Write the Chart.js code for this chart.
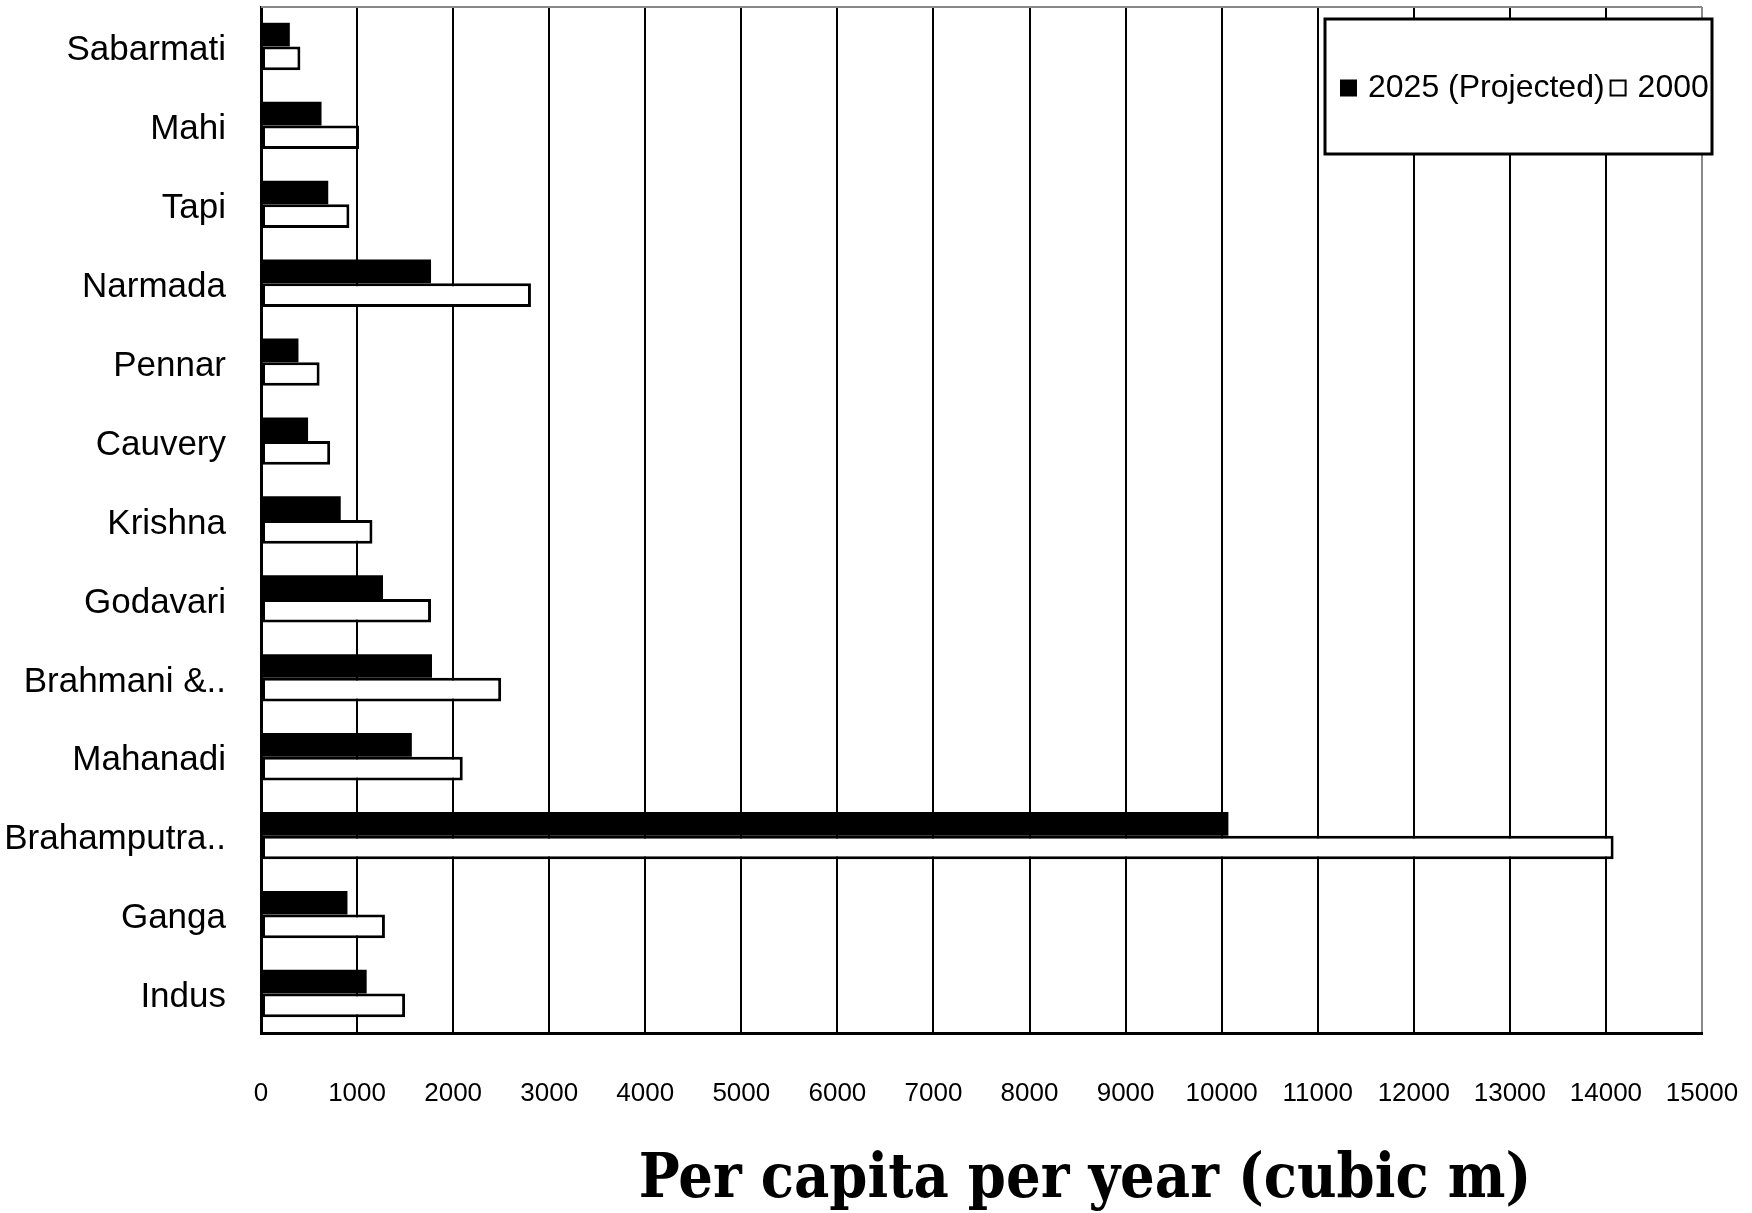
<!DOCTYPE html>
<html>
<head>
<meta charset="utf-8">
<title>Per capita water availability by river basin</title>
<script src="https://cdn.jsdelivr.net/npm/chart.js@4.4.1/dist/chart.umd.min.js"></script>
<style>
    body { margin: 0; background: #fff; }
    canvas { display: block; background: #fff; }
</style>
</head>
<body>
<canvas id="basinChart" width="1752" height="1213"></canvas>
<script>
// River basins, top to bottom
const basins = ['Sabarmati', 'Mahi', 'Tapi', 'Narmada', 'Pennar', 'Cauvery', 'Krishna',
    'Godavari', 'Brahmani &..', 'Mahanadi', 'Brahamputra..', 'Ganga', 'Indus'];

// Cubic metres per capita per year
const projected2025 = [300, 630, 700, 1770, 390, 490, 830, 1270, 1780, 1570, 10070, 900, 1100];
const actual2000 = [410, 1020, 920, 2810, 610, 720, 1160, 1770, 2500, 2100, 14080, 1290, 1500];

const axisMax = 15000;
const axisStep = 1000;
const axisTitle = 'Per capita per year (cubic m)';

// Top frame line, boxed legend inside the plot, and the axis title
const framePlugin = {
    id: 'frame',
    afterDatasetsDraw(chart) {
        const ctx = chart.ctx;
        const area = chart.chartArea;
        ctx.save();
        ctx.strokeStyle = '#888';
        ctx.lineWidth = 2;
        ctx.beginPath();
        ctx.moveTo(area.left, area.top);
        ctx.lineTo(area.right, area.top);
        ctx.stroke();
        ctx.restore();
    },
    afterDraw(chart) {
        const ctx = chart.ctx;
        const area = chart.chartArea;
        const box = { left: area.right - 377, top: area.top + 12, width: 387, height: 135 };

        ctx.save();
        ctx.fillStyle = '#fff';
        ctx.fillRect(box.left, box.top, box.width, box.height);
        ctx.strokeStyle = '#000';
        ctx.lineWidth = 3;
        ctx.strokeRect(box.left, box.top, box.width, box.height);

        ctx.font = '32px "Liberation Sans", Arial, sans-serif';
        ctx.textBaseline = 'middle';
        const midY = box.top + box.height / 2 + 2;
        let x = box.left + 15;
        chart.data.datasets.forEach(ds => {
            ctx.fillStyle = ds.backgroundColor;
            ctx.fillRect(x, midY - 9, 17, 17);
            if (ds.backgroundColor === '#ffffff') {
                ctx.lineWidth = 2;
                ctx.strokeRect(x + 1, midY - 8, 15, 15);
            }
            x += 28;
            ctx.fillStyle = '#000';
            ctx.fillText(ds.label, x, midY);
            x += ctx.measureText(ds.label).width + 5;
        });
        ctx.restore();

        // Narrowed slab-serif title under the value axis
        ctx.save();
        ctx.font = 'bold 62px "DejaVu Serif", serif';
        ctx.fillStyle = '#000';
        ctx.textAlign = 'center';
        ctx.textBaseline = 'alphabetic';
        ctx.translate(1085, 1197);
        ctx.scale(0.88, 1);
        ctx.fillText(axisTitle, 0, 0);
        ctx.restore();
    }
};

function drawChart() {
    new Chart(document.getElementById('basinChart'), {
        type: 'bar',
        data: {
            labels: basins,
            datasets: [{
                label: '2025 (Projected)',
                data: projected2025,
                backgroundColor: '#000000',
                borderWidth: 0
            }, {
                label: '2000',
                data: actual2000,
                backgroundColor: '#ffffff',
                borderColor: '#000000',
                borderWidth: 3,
                borderSkipped: false
            }]
        },
        options: {
            indexAxis: 'y',
            responsive: false,
            animation: false,
            devicePixelRatio: 1,
            categoryPercentage: 0.6,
            barPercentage: 1.0,
            layout: { padding: { top: 7, right: 50, bottom: 0, left: 0 } },
            plugins: {
                legend: { display: false },
                tooltip: { enabled: false }
            },
            scales: {
                x: {
                    min: 0,
                    max: axisMax,
                    ticks: {
                        stepSize: axisStep,
                        color: '#000',
                        padding: 45,
                        maxRotation: 0,
                        autoSkip: false,
                        callback: v => String(v),
                        font: { family: '"Liberation Sans", Arial, sans-serif', size: 26 }
                    },
                    grid: {
                        drawTicks: false,
                        lineWidth: 2,
                        color: c => (c.tick && c.tick.value === axisMax) ? '#888' : '#000'
                    },
                    border: { color: '#000', width: 3 },
                    afterFit: s => {
                        s.height = 180;
                        s.paddingLeft = 0;
                        s.paddingRight = 0;
                    }
                },
                y: {
                    ticks: {
                        color: '#000',
                        padding: 35,
                        labelOffset: 4,
                        autoSkip: false,
                        font: { family: '"Liberation Sans", Arial, sans-serif', size: 35 }
                    },
                    grid: { display: false, drawTicks: false },
                    border: { color: '#000', width: 3 },
                    afterFit: s => {
                        s.width = 261;
                        s.paddingTop = 0;
                        s.paddingBottom = 0;
                    }
                }
            }
        },
        plugins: [framePlugin]
    });
}

document.addEventListener('DOMContentLoaded', drawChart);
</script>
</body>
</html>
